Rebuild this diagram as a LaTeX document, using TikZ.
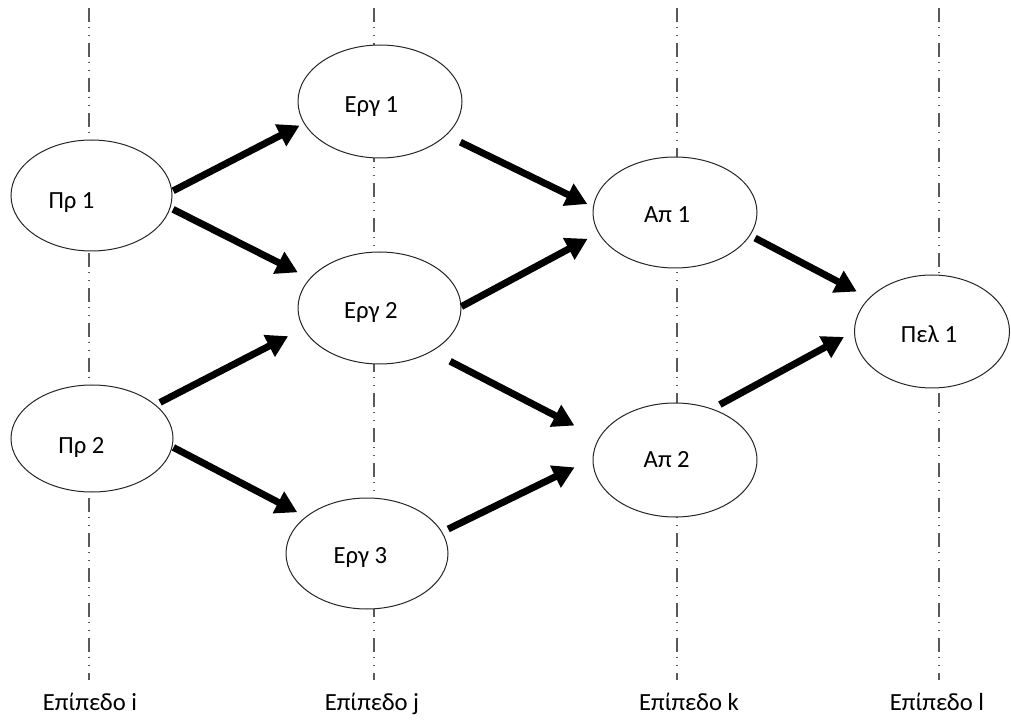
\documentclass[tikz,border=0pt]{standalone}
\usepackage{fontspec}
\setmainfont{Carlito}
\usetikzlibrary{shapes.geometric,arrows.meta}

% text inside a stage ellipse, moved by (#1, -#2) from the centre; #3 is the label
\newcommand\stagetext[3]{\makebox[0pt]{\kern#1pt\kern#1pt\raisebox{\dimexpr-#2pt-5.8pt\relax}[0pt][0pt]{#3}}}

\begin{document}
\begin{tikzpicture}[x=0.75pt,y=-0.75pt,
  levelline/.style={draw=black!65, line width=1pt,
    dash pattern=on 10.5pt off 3.75pt on 0.75pt off 5.25pt on 0.75pt off 5.25pt},
  stage/.style={ellipse, draw=black!85, line width=0.75pt, fill=white,
    inner sep=0pt, font=\fontsize{18.5}{22}\selectfont},
  flow/.style={line width=5.2pt, -{Triangle[length=16pt,width=17.5pt]}},
  levellabel/.style={font=\fontsize{18.5}{22}\selectfont, inner sep=0pt, anchor=base}
]
\useasboundingbox[fill=white] (0,0) rectangle (1011,720);

% vertical level lines
\coordinate (li-top) at (89,8);    \coordinate (li-bot) at (89,680);
\coordinate (lj-top) at (374,8);   \coordinate (lj-bot) at (374,680);
\coordinate (lk-top) at (677,8);   \coordinate (lk-bot) at (677,680);
\coordinate (ll-top) at (939,8);   \coordinate (ll-bot) at (939,680);
\draw[levelline] (li-top) -- (li-bot);
\draw[levelline] (lj-top) -- (lj-bot);
\draw[levelline] (lk-top) -- (lk-bot);
\draw[levelline] (ll-top) -- (ll-bot);

% stages
\node[stage, minimum width=120.75pt, minimum height=83.25pt] (p1) at (91.5,195.5) {\stagetext{-15}{3.75}{Πρ 1}};
\node[stage, minimum width=121.5pt, minimum height=80.25pt] (p2) at (92,438.5) {\stagetext{-7.9}{5.6}{Πρ 2}};
\node[stage, minimum width=123pt, minimum height=84.75pt] (e1) at (380,101.5) {\stagetext{-6.4}{2.6}{Εργ 1}};
\node[stage, minimum width=122.25pt, minimum height=84pt] (e2) at (379.5,308) {\stagetext{-6.4}{2}{Εργ 2}};
\node[stage, minimum width=121.5pt, minimum height=83.25pt] (e3) at (367,553.5) {\stagetext{-4.9}{1.9}{Εργ 3}};
\node[stage, minimum width=123pt, minimum height=83.25pt] (a1) at (675,212.5) {\stagetext{-6}{1.9}{Απ 1}};
\node[stage, minimum width=123pt, minimum height=85.5pt] (a2) at (675,460) {\stagetext{-6.2}{0}{Απ 2}};
\node[stage, minimum width=116.25pt, minimum height=84.75pt] (t1) at (932,331.5) {\stagetext{-2.25}{2.6}{Πελ 1}};

% flows between stages
\draw[flow, shorten <=0.8pt, shorten >=3.6pt] (p1.3) -- (e1.196);
\draw[flow, shorten <=2.2pt, shorten >=10pt] (p1.351) -- (e2.157);
\draw[flow, shorten <=3.8pt, shorten >=12.6pt] (p2.28) -- (e2.195);
\draw[flow, shorten <=0.8pt, shorten >=7.1pt] (p2.354) -- (e3.149);
\draw[flow, shorten <=11.7pt, shorten >=4.7pt] (e1.333) -- (a1.176);
\draw[flow, shorten <=0pt, shorten >=9.1pt] (e2.1) -- (a1.195);
\draw[flow, shorten <=15.7pt, shorten >=20.5pt] (e2.320) -- (a2.164);
\draw[flow, shorten <=5pt, shorten >=15pt] (e3.16) -- (a2.179);
\draw[flow, shorten <=4.1pt, shorten >=10.3pt] (a1.343) -- (t1.152);
\draw[flow, shorten <=6.5pt, shorten >=8.6pt] (a2.54) -- (t1.180);

% level names
\node[levellabel] (ni) at (90,710) {Επίπεδο i};
\node[levellabel] (nj) at (372,710) {Επίπεδο j};
\node[levellabel] (nk) at (689,710) {Επίπεδο k};
\node[levellabel] (nl) at (937,710) {Επίπεδο l};
\end{tikzpicture}
\end{document}
